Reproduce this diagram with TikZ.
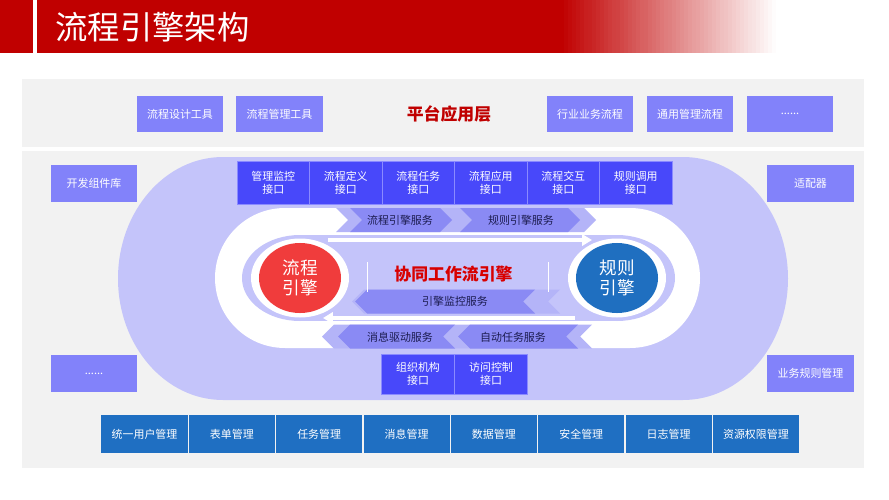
\documentclass[tikz,border=0pt]{standalone}
\usepackage{fontspec}
\setmainfont{Noto Sans CJK SC}
\usetikzlibrary{arrows.meta, shapes.geometric}

\definecolor{hdred}{HTML}{C00000}
\definecolor{panelgray}{HTML}{F2F2F2}
\definecolor{toolblue}{HTML}{8282FA}
\definecolor{ifaceblue}{HTML}{4848FA}
\definecolor{ifaceline}{HTML}{8A8AFF}
\definecolor{ovalblue}{HTML}{C4C4FA}
\definecolor{chevdark}{HTML}{8A8AF4}
\definecolor{chevlight}{HTML}{B4B4F8}
\definecolor{baseblue}{HTML}{1F6FC2}
\definecolor{redengine}{HTML}{F03C3C}
\definecolor{blueengine}{HTML}{1F6FC0}
\definecolor{svcnavy}{HTML}{1C1C50}
\definecolor{coretitle}{HTML}{D80000}

% chevrons: tail x, tip x, middle y, colour
\newcommand\chevR[4]{\fill[#4] (#1,#3-12) -- (#2-12,#3-12) -- (#2,#3) -- (#2-12,#3+12) -- (#1,#3+12) -- (#1+12,#3) -- cycle;}
\newcommand\chevL[4]{\fill[#4] (#1,#3-12) -- (#2+12,#3-12) -- (#2,#3) -- (#2+12,#3+12) -- (#1,#3+12) -- (#1-12,#3) -- cycle;}

\tikzset{
  boxfont/.style={font=\fontsize{7.8}{9.3}\selectfont},
  toolbox/.style={boxfont, fill=toolblue, text=white, minimum width=2.15cm, minimum height=0.92cm, inner sep=0pt},
  ifacebox/.style={boxfont, fill=ifaceblue, draw=ifaceline, line width=0.5pt, text=white, align=center,
    minimum width=1.8125cm, minimum height=1.075cm, inner sep=0pt},
  basebox/.style={boxfont, fill=baseblue, text=white, minimum width=2.15cm, minimum height=0.95cm, inner sep=0pt},
  svclabel/.style={boxfont, text=svcnavy, inner sep=0pt},
  engine/.style={ellipse, text=white, align=center, minimum width=2.05cm, minimum height=1.75cm, inner sep=0pt,
    font=\fontsize{12.5}{14.5}\selectfont},
  flowarrow/.style={white, line width=2.2pt, -{Triangle[length=7pt,width=8pt]}}
}

\begin{document}
\begin{tikzpicture}[x=0.025cm, y=-0.025cm]
    \useasboundingbox (0,0) rectangle (889,500);

    % title bar, fading out to the right
    \fill[hdred] (0,0) rectangle (561,53);
    \foreach \i in {0,...,54} {
        \pgfmathtruncatemacro\p{100-\i*100/54}
        \fill[hdred!\p!white] (560+4*\i,0) rectangle ++(4.4,53);
    }
    \fill[white] (33,0) rectangle (37,53);
    \node[text=white, font=\fontsize{23}{26}\selectfont] (title) at (152.5,27) {流程引擎架构};

    % panels
    \fill[panelgray] (22,79) rectangle (864,147);
    \fill[panelgray] (22,151) rectangle (864,468);

    % platform layer
    \node[toolbox] (sjgj) at (180,114) {流程设计工具};
    \node[toolbox] (glgj) at (279.5,114) {流程管理工具};
    \node[text=hdred, font=\bfseries\fontsize{12}{14}\selectfont] (ptyy) at (449,114) {平台应用层};
    \node[toolbox] (hyyw) at (590,114) {行业业务流程};
    \node[toolbox] (tygl) at (690,114) {通用管理流程};
    \node[toolbox] (dotsa) at (790,114) {......};

    % side boxes
    \node[toolbox] (kfzj) at (94,183.5) {开发组件库};
    \node[toolbox] (spq) at (810.5,183.5) {适配器};
    \node[toolbox] (dotsb) at (94,373.5) {......};
    \node[toolbox] (ywgz) at (810.5,373.5) {业务规则管理};

    % engine oval
    \fill[ovalblue] (223,157) -- (683,157) arc[start angle=-90, end angle=90, x radius=105, y radius=121.5]
        -- (223,400) arc[start angle=90, end angle=270, x radius=105, y radius=121.5] -- cycle;
    \fill[white] (285,208) -- (630,208) arc[start angle=-90, end angle=90, radius=70]
        -- (285,348) arc[start angle=90, end angle=270, radius=70] -- cycle;
    \fill[ovalblue] (300,278) circle[x radius=58, y radius=43];
    \fill[ovalblue] (617,278) circle[x radius=58, y radius=43];
    \fill[ovalblue] (300,235) rectangle (617,321);
    \fill[white] (300,278) circle[x radius=49, y radius=39.5];
    \fill[white] (617,278) circle[x radius=49, y radius=39.5];

    % service chevrons
    \chevR{336}{596}{220}{chevlight}
    \chevR{350}{452}{220}{chevdark}
    \chevR{460}{580}{220}{chevdark}
    \chevL{560}{352}{301.5}{chevlight}
    \chevL{535}{355}{301.5}{chevdark}
    \chevL{592}{322}{336.5}{chevlight}
    \chevL{455}{338}{336.5}{chevdark}
    \chevL{578}{458}{336.5}{chevdark}

    \node[svclabel] (lcfw) at (400,220) {流程引擎服务};
    \node[svclabel] (gzfw) at (521,220) {规则引擎服务};
    \node[svclabel] (jkfw) at (455,301.5) {引擎监控服务};
    \node[svclabel] (xxfw) at (400,337) {消息驱动服务};
    \node[svclabel] (zdfw) at (513,337) {自动任务服务};

    % flows between the engines
    \coordinate (flowa) at (328,240);
    \coordinate (flowb) at (592,240);
    \coordinate (flowc) at (575,318);
    \coordinate (flowd) at (323,318);
    \draw[flowarrow] (flowa) -- (flowb);
    \draw[flowarrow] (flowc) -- (flowd);

    \node[engine, fill=redengine] (lcyq) at (300,278) {流程\\引擎};
    \node[engine, fill=blueengine] (gzyq) at (617,278) {规则\\引擎};

    \node[text=coretitle, font=\bfseries\fontsize{12}{14}\selectfont] (core) at (453.5,274) {协同工作流引擎};
    \draw[white, line width=0.6pt] (367,262) -- (367,292);
    \draw[white, line width=0.6pt] (548,262) -- (548,292);

    % interfaces
    \foreach \t [count=\i from 0] in {管理监控\\接口, 流程定义\\接口, 流程任务\\接口, 流程应用\\接口, 流程交互\\接口, 规则调用\\接口} {
        \node[ifacebox] (if\i) at ({273.25+72.5*\i},182.5) {\t};
    }
    \node[ifacebox, minimum height=1cm] (zzjg) at (418,374) {组织机构\\接口};
    \node[ifacebox, minimum height=1cm] (fwkz) at (491,374) {访问控制\\接口};

    % base services
    \foreach \t [count=\i from 0] in {统一用户管理, 表单管理, 任务管理, 消息管理, 数据管理, 安全管理, 日志管理, 资源权限管理} {
        \node[basebox] (base\i) at ({144.5+87.35*\i},434) {\t};
    }
\end{tikzpicture}
\end{document}
